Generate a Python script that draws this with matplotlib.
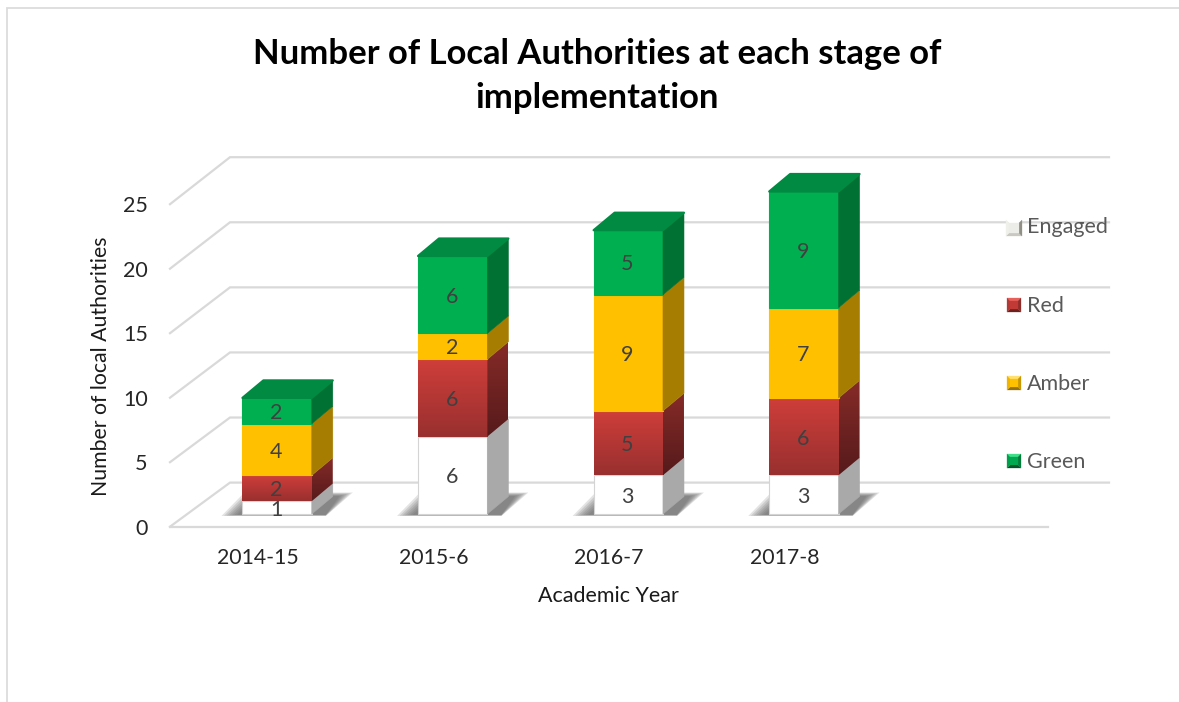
import numpy as np
import matplotlib
matplotlib.use("Agg")
import matplotlib.pyplot as plt
from matplotlib.patches import Polygon
from matplotlib.lines import Line2D
from matplotlib.transforms import Affine2D, IdentityTransform
from matplotlib.colors import to_rgb

categories = ["2014-15", "2015-6", "2016-7", "2017-8"]
series_names = ["Engaged", "Red", "Amber", "Green"]
engaged = [1, 6, 3, 3]
red = [2, 6, 5, 6]
amber = [4, 2, 9, 7]
green = [2, 6, 5, 9]
y_ticks = [0, 5, 10, 15, 20, 25]

W, H = 1179, 702
plt.rcParams["font.family"] = ["Lato", "DejaVu Sans"]
fig = plt.figure(figsize=(W / 100, H / 100), dpi=100, facecolor="white")
L, R, B, T = 170, 1048, 526.7, 204.2
ax = fig.add_axes([L / W, 1 - B / H, (R - L) / W, (B - T) / H])
ax.set_xlim(-0.5, 4.5)
ax.set_ylim(0, 25)
ax.patch.set_visible(False)
for s in ax.spines.values():
    s.set_visible(False)

px = IdentityTransform()
flip = Affine2D().scale(1, -1).translate(0, H)
GRID = "#d9d9d9"
BAR_DX, BAR_DY = 19.3, 12.7
DEPTH_X, DEPTH_Y = 21, 17.5
BAR_W = 0.395
off = Affine2D().translate(BAR_DX, BAR_DY)


def disp(x, v, dx=0.0, dy=0.0):
    p = ax.transData.transform((x, v))
    return [p[0] + dx, p[1] + dy]


def vgrad(c_top, c_bottom, n=64):
    t = np.linspace(0, 1, n)[:, None]
    a, b = np.array(to_rgb(c_top)), np.array(to_rgb(c_bottom))
    return (a * (1 - t) + b * t)[:, None, :]


# walls and floor
for v in y_ticks:
    back_dy = 44.1 + 0.116 * v
    pts = [disp(-0.5, v), disp(-0.5, v, 60, back_dy), disp(4.5, v, 61, back_dy)]
    ax.add_line(Line2D(*zip(*pts), transform=px, color=GRID, lw=1.6, zorder=1,
                       solid_joinstyle="miter", clip_on=False))
ax.add_line(Line2D(*zip(disp(-0.5, 0), disp(4.5, 0)), transform=px, color=GRID,
                   lw=1.6, zorder=1, clip_on=False))

front = {"Engaged": "#ffffff", "Amber": "#ffc000", "Green": "#00b050"}
side = {"Engaged": "#a9a9a9", "Amber": "#a67d00", "Green": "#007033"}
red_front = ("#cf3e3a", "#98302f")
red_side = ("#862b28", "#561a1b")
top_green = "#008a42"

vals = {"Engaged": engaged, "Red": red, "Amber": amber, "Green": green}
xs = np.arange(len(categories))
z = 3.0

# soft floor shadows, built up from shrinking layers
for x in xs:
    x0, _ = disp(x - BAR_W / 2, 0, BAR_DX, BAR_DY)
    x1, y0 = disp(x + BAR_W / 2, 0, BAR_DX, BAR_DY)
    for k in range(7):
        shape = [[x0 - 21 + 2.6 * k, y0 - 2 + 0.2 * k], [x1 + 14, y0 - 2 + 0.2 * k],
                 [x1 + 41 - 2.2 * k, y0 + 21.5 - 0.6 * k], [x0 + 2 + 2.4 * k, y0 + 21.5 - 0.6 * k]]
        ax.add_patch(Polygon(shape, closed=True, transform=px, fc="#5a5a5a", ec="none",
                             alpha=0.17, zorder=2, clip_on=False))

for i, x in enumerate(xs):
    bottom = 0
    for name in series_names:
        v = vals[name][i]
        z += 0.01
        x0, y0 = disp(x - BAR_W / 2, bottom, BAR_DX, BAR_DY)
        x1, y1 = disp(x + BAR_W / 2, bottom + v, BAR_DX, BAR_DY)
        sidepts = [[x1, y0], [x1 + DEPTH_X, y0 + DEPTH_Y], [x1 + DEPTH_X, y1 + DEPTH_Y], [x1, y1]]
        if name == "Red":
            ax.bar(x, v, BAR_W, bottom=bottom, color=red_front[0], transform=off + ax.transData,
                   zorder=z, clip_on=False)
            im = ax.imshow(vgrad(*red_front), extent=(x - BAR_W / 2, x + BAR_W / 2, bottom, bottom + v),
                           transform=ax.transData + off, aspect="auto", zorder=z + 0.001)
            im.set_clip_on(False)
            clip = Polygon(sidepts, closed=True, transform=px, fc="none", ec="none")
            ax.add_patch(clip)
            im2 = ax.imshow(vgrad(*red_side), extent=(x1, x1 + DEPTH_X, y0, y1 + DEPTH_Y),
                            transform=px, aspect="auto", zorder=z + 0.002)
            im2.set_clip_path(clip)
        else:
            ec = "#d4d4d4" if name == "Engaged" else front[name]
            ax.bar(x, v, BAR_W, bottom=bottom, color=front[name], edgecolor=ec, linewidth=0.8,
                   transform=ax.transData + off, zorder=z, clip_on=False)
            ax.add_patch(Polygon(sidepts, closed=True, transform=px, fc=side[name],
                                 ec=side[name], lw=0.4, zorder=z + 0.002, clip_on=False))
        ax.annotate(str(v), (x, bottom + v / 2), xytext=(BAR_DX - 1, BAR_DY), textcoords="offset pixels",
                    ha="center", va="center_baseline", fontsize=15.5, color="#404040", zorder=20)
        bottom += v
    x0, yt = disp(x - BAR_W / 2, bottom, BAR_DX, BAR_DY)
    x1, _ = disp(x + BAR_W / 2, bottom, BAR_DX, BAR_DY)
    ax.add_patch(Polygon([[x0, yt], [x1, yt], [x1 + DEPTH_X, yt + DEPTH_Y], [x0 + DEPTH_X, yt + DEPTH_Y]],
                         closed=True, transform=px, fc=top_green, ec=top_green, lw=1.6,
                         joinstyle="round", zorder=z + 0.003, clip_on=False))

ax.set_xlim(-0.5, 4.5)
ax.set_ylim(0, 25)
ax.set_xticks(xs, categories, fontsize=15.3, color="#262626")
ax.set_yticks(y_ticks, [str(v) for v in y_ticks], fontsize=15.5, color="#262626")
ax.tick_params(length=0)
ax.tick_params(axis="x", pad=15)
ax.tick_params(axis="y", pad=16)

fig.text(597, 54, "Number of Local Authorities at each stage of", transform=flip,
         ha="center", va="center", fontsize=24.9, fontweight="bold", color="black")
fig.text(597, 98, "implementation", transform=flip,
         ha="center", va="center", fontsize=24.9, fontweight="bold", color="black")
fig.text(101, 366, "Number of local Authorities", transform=flip, rotation=90,
         ha="center", va="center", fontsize=15.3, color="#1a1a1a")
fig.text(608, 596, "Academic Year", transform=flip, ha="center", va="center",
         fontsize=15.5, color="#1a1a1a")

# legend: bevelled swatches with a flat centre
legend_y = [228, 305, 383, 461]
legend_cols = {"Engaged": ("#ffffff", "#c9c9c2", "#f0f0ea", "#8f8f86", "#ecece8"),
               "Red": ("#e8605a", "#6e2220", "#b23a36", "#8f2d2a", "#c23a36"),
               "Amber": ("#ffe070", "#96720a", "#f0b400", "#c99700", "#ffc000"),
               "Green": ("#40e08a", "#00562a", "#00a04a", "#007f3a", "#00a850")}
for name, yc in zip(series_names, legend_y):
    hw = 8 if name == "Engaged" else 7
    cx = 1014
    cols = legend_cols[name]
    inner = hw - 3
    tl, tr, br, bl = (cx - hw, yc - hw), (cx + hw, yc - hw), (cx + hw, yc + hw), (cx - hw, yc + hw)
    itl, itr, ibr, ibl = (cx - inner, yc - inner), (cx + inner, yc - inner), (cx + inner, yc + inner), (cx - inner, yc + inner)
    for quad, c in zip([(tl, tr, itr, itl), (bl, br, ibr, ibl), (tl, bl, ibl, itl), (tr, br, ibr, itr)], cols[:4]):
        fig.add_artist(Polygon(quad, closed=True, transform=flip, fc=c, ec=c, lw=0.2))
    fig.add_artist(Polygon((itl, itr, ibr, ibl), closed=True, transform=flip, fc=cols[4], ec=cols[4], lw=0.2))
    fig.text(1027, yc + 1 if name != "Engaged" else yc - 1, name, transform=flip, ha="left",
             va="center", fontsize=15.5, color="#595959")

# chart frame
fig.add_artist(Line2D([7, 7, W], [H, 8, 8], transform=flip, color="#dcdcdc", lw=1.3,
                      solid_joinstyle="miter"))

fig.savefig("out.png", dpi=100, facecolor="white")
